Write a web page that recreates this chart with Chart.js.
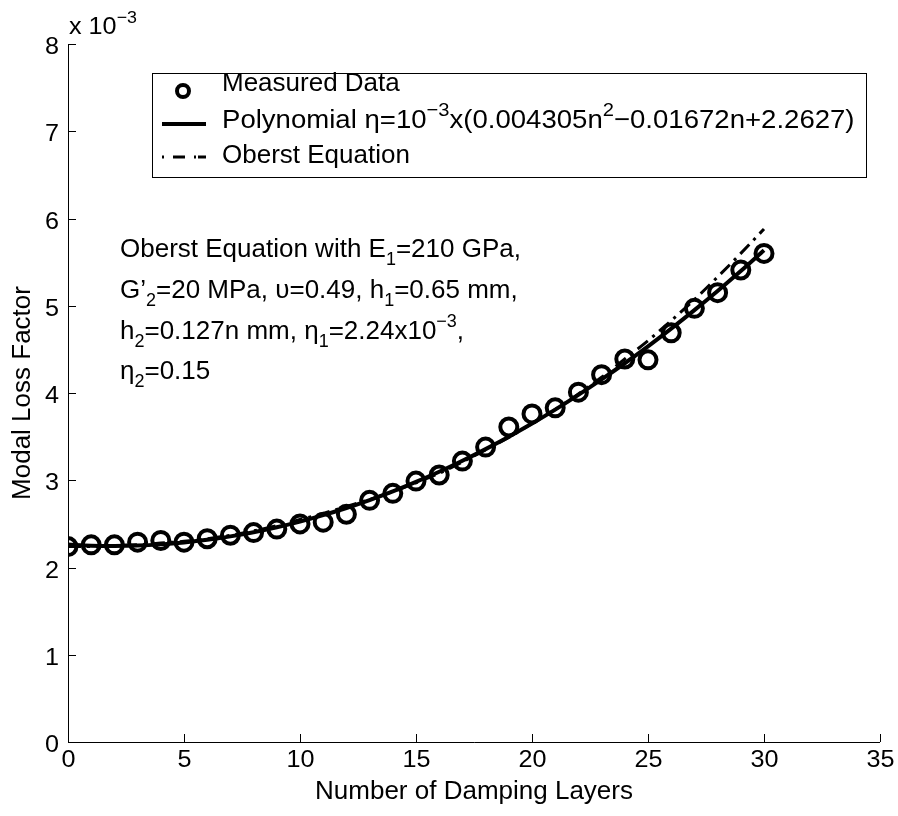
<!DOCTYPE html>
<html><head><meta charset="utf-8">
<script src="https://cdn.jsdelivr.net/npm/chart.js@4.4.0/dist/chart.umd.min.js"></script>
<style>html,body{margin:0;padding:0;background:#fff;}canvas{display:block;}</style>
</head><body>
<canvas id="c" width="898" height="816"></canvas>
<script>
// ---- data ----
const layers = [0,1,2,3,4,5,6,7,8,9,10,11,12,13,14,15,16,17,18,19,20,21,22,23,24,25,26,27,28,29,30];
const measured = [2.24,2.26,2.26,2.29,2.31,2.29,2.33,2.37,2.40,2.44,2.50,2.52,2.61,2.77,2.85,2.99,3.06,3.22,3.38,3.61,3.76,3.83,4.01,4.21,4.39,4.38,4.69,4.97,5.15,5.41,5.60];
const polynomial = [2.263,2.250,2.247,2.251,2.265,2.287,2.317,2.357,2.405,2.461,2.526,2.600,2.682,2.773,2.872,2.981,3.097,3.223,3.357,3.499,3.650,3.810,3.979,4.156,4.341,4.535,4.738,4.950,5.170,5.398,5.636];
const oberst = [2.24,2.24,2.25,2.26,2.28,2.30,2.33,2.37,2.42,2.48,2.55,2.62,2.70,2.78,2.87,2.97,3.08,3.21,3.35,3.49,3.65,3.81,3.99,4.18,4.39,4.60,4.83,5.07,5.33,5.60,5.88];
const xTickValues = [0,5,10,15,20,25,30,35];
const yTickValues = [0,1,2,3,4,5,6,7,8];
const legendLabels = ['Measured Data','Polynomial','Oberst Equation'];

const FONT = '"Liberation Sans", Arial, Helvetica, sans-serif';
const F = 26;      // base font size
const FS = 18;     // sub/sup size
const SX = 1.0;    // horizontal stretch

function pts(ys){ return layers.map((x,i)=>({x:x, y:ys[i]})); }

function richWidth(ctx, segs, f, fs){
  let w = 0;
  for (const [t,k] of segs){
    ctx.font = (k==='n'? f : fs) + 'px ' + FONT;
    w += ctx.measureText(t).width;
  }
  return w;
}
function drawRich(ctx, segs, x, y, align, f, fs, sx){
  f = f || F; fs = fs || FS; sx = sx || SX;
  ctx.save();
  ctx.translate(x, y);
  ctx.scale(sx, 1);
  let w = richWidth(ctx, segs, f, fs);
  let cx = align==='center' ? -w/2 : (align==='right' ? -w : 0);
  ctx.textBaseline = 'alphabetic';
  ctx.textAlign = 'left';
  ctx.fillStyle = '#000';
  for (const [t,k] of segs){
    ctx.font = (k==='n'? f : fs) + 'px ' + FONT;
    let dy = k==='sup' ? -f*0.45 : (k==='sub' ? f*0.3 : 0);
    ctx.fillText(t, cx, dy);
    cx += ctx.measureText(t).width;
  }
  ctx.restore();
}

const decor = {
  id: 'decor',
  afterDraw(chart){
    const ctx = chart.ctx;
    const xs = chart.scales.x, ys = chart.scales.y;
    const a = chart.chartArea;
    ctx.save();
    ctx.strokeStyle = '#000';
    ctx.lineWidth = 1;
    ctx.beginPath();
    ctx.moveTo(a.left+0.5, a.top);
    ctx.lineTo(a.left+0.5, a.bottom+0.5);
    ctx.lineTo(a.right, a.bottom+0.5);
    ctx.stroke();
    for (const t of xs.ticks){
      const px = Math.round(xs.getPixelForValue(t.value))+0.5;
      ctx.beginPath(); ctx.moveTo(px, a.bottom); ctx.lineTo(px, a.bottom-8); ctx.stroke();
      drawRich(ctx, [[String(t.value),'n']], px, a.bottom+25, 'center', 24, 16, 1.05);
    }
    for (const t of ys.ticks){
      const py = Math.round(ys.getPixelForValue(t.value))+0.5;
      ctx.beginPath(); ctx.moveTo(a.left, py); ctx.lineTo(a.left+8, py); ctx.stroke();
      drawRich(ctx, [[String(t.value),'n']], a.left-9, py+9, 'right', 24, 16, 1.05);
    }
    drawRich(ctx, [['x 10','n'],['\u22123','sup']], a.left+1, 34, 'left', 24, 17, 1.05);
    drawRich(ctx, [['Number of Damping Layers','n']], (a.left+a.right)/2, 799, 'center');
    ctx.save();
    ctx.translate(30, (a.top+a.bottom)/2);
    ctx.rotate(-Math.PI/2);
    drawRich(ctx, [['Modal Loss Factor','n']], 0, 0, 'center');
    ctx.restore();

    // legend
    const L = {x:152, y:73, w:714, h:104};
    ctx.fillStyle = '#fff';
    ctx.fillRect(L.x, L.y, L.w, L.h);
    ctx.lineWidth = 1;
    ctx.strokeRect(L.x+0.5, L.y+0.5, L.w, L.h);
    ctx.lineWidth = 4;
    ctx.beginPath(); ctx.arc(183, 91, 6, 0, Math.PI*2); ctx.stroke();
    ctx.beginPath(); ctx.moveTo(162, 124); ctx.lineTo(206, 124); ctx.stroke();
    ctx.lineWidth = 3;
    ctx.setLineDash([2,9,12,9,2]);
    ctx.beginPath(); ctx.moveTo(162, 157); ctx.lineTo(206, 157); ctx.stroke();
    ctx.setLineDash([]);
    drawRich(ctx, [[legendLabels[0],'n']], 222, 91, 'left');
    drawRich(ctx, [[legendLabels[1]+' \u03b7=10','n'],['\u22123','sup'],['x(0.004305n','n'],['2','sup'],['\u22120.01672n+2.2627)','n']], 222, 128, 'left', 26, 19, 1.06);
    drawRich(ctx, [[legendLabels[2],'n']], 222, 163, 'left');

    // annotation
    drawRich(ctx, [['Oberst Equation with E','n'],['1','sub'],['=210 GPa,','n']], 120, 257, 'left');
    drawRich(ctx, [['G\u2019','n'],['2','sub'],['=20 MPa, \u03c5=0.49, h','n'],['1','sub'],['=0.65 mm,','n']], 120, 298, 'left');
    drawRich(ctx, [['h','n'],['2','sub'],['=0.127n mm, \u03b7','n'],['1','sub'],['=2.24x10','n'],['\u22123','sup'],[',','n']], 120, 339, 'left');
    drawRich(ctx, [['\u03b7','n'],['2','sub'],['=0.15','n']], 120, 379, 'left');
    ctx.restore();
  }
};

new Chart(document.getElementById('c'), {
  type: 'line',
  data: {
    datasets: [
      {label: legendLabels[0], data: pts(measured), showLine: false, order: 3,
       pointStyle: 'circle', pointRadius: 8.5, pointBorderWidth: 4,
       pointBorderColor: '#000', pointBackgroundColor: 'rgba(0,0,0,0)', borderColor: '#000'},
      {label: legendLabels[1], data: pts(polynomial), order: 2, borderColor: '#000',
       borderWidth: 4, pointRadius: 0, cubicInterpolationMode: 'monotone', fill: false},
      {label: legendLabels[2], data: pts(oberst), order: 1, borderColor: '#000',
       borderWidth: 3, borderDash: [13,6,3,6], pointRadius: 0, cubicInterpolationMode: 'monotone', fill: false}
    ]
  },
  options: {
    responsive: false,
    animation: false,
    devicePixelRatio: 1,
    layout: {padding: {left: 68, top: 44, right: 18, bottom: 74}},
    plugins: {legend: {display: false}, tooltip: {enabled: false}},
    scales: {
      x: {type: 'linear', min: 0, max: 35,
          afterBuildTicks: s => { s.ticks = xTickValues.map(v => ({value: v})); },
          ticks: {display: false}, grid: {display: false}, border: {display: false},
          afterFit: s => { s.height = 0; }},
      y: {type: 'linear', min: 0, max: 8,
          afterBuildTicks: s => { s.ticks = yTickValues.map(v => ({value: v})); },
          ticks: {display: false}, grid: {display: false}, border: {display: false},
          afterFit: s => { s.width = 0; }}
    }
  },
  plugins: [decor]
});
</script>
</body></html>
